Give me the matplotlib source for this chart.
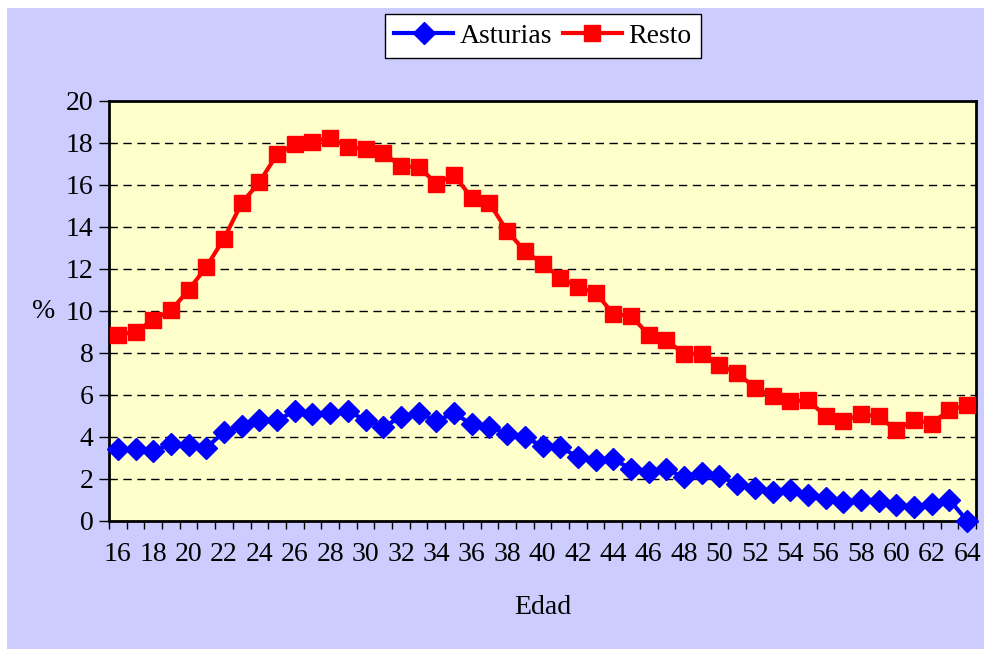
import matplotlib
matplotlib.use("Agg")
import matplotlib.pyplot as plt
from matplotlib.patches import Rectangle
import numpy as np

ages = list(range(16, 65))
asturias = [3.41, 3.44, 3.32, 3.68, 3.60, 3.49, 4.24, 4.51, 4.83, 4.80,
            5.24, 5.08, 5.14, 5.24, 4.80, 4.48, 4.95, 5.16, 4.76, 5.14,
            4.60, 4.48, 4.16, 4.00, 3.56, 3.52, 3.05, 2.89, 2.97, 2.46,
            2.33, 2.47, 2.08, 2.28, 2.14, 1.75, 1.59, 1.38, 1.49, 1.26,
            1.10, 0.90, 1.02, 0.96, 0.75, 0.67, 0.83, 1.02, 0.00]
resto = [8.88, 9.00, 9.59, 10.03, 11.00, 12.10, 13.45, 15.14, 16.14, 17.46,
         17.94, 18.05, 18.26, 17.81, 17.70, 17.54, 16.89, 16.86, 16.07, 16.46,
         15.40, 15.14, 13.81, 12.86, 12.26, 11.59, 11.14, 10.86, 9.87, 9.76,
         8.88, 8.60, 7.97, 7.97, 7.41, 7.05, 6.35, 5.94, 5.71, 5.75,
         5.00, 4.76, 5.08, 4.98, 4.32, 4.83, 4.64, 5.30, 5.51]
xtick_labels = [str(a) for a in range(16, 65, 2)]
yticks = list(range(0, 21, 2))

plt.rcParams['font.family'] = ['Liberation Serif', 'DejaVu Serif']
FS = 20

W, H = 984, 649
fig = plt.figure(figsize=(W / 100, H / 100), dpi=100)
fig.patch.set_facecolor('white')
bg = Rectangle((7 / W, 0), 1 - 7 / W, 1 - 8 / H, transform=fig.transFigure,
               facecolor='#CCCCFF', edgecolor='none', zorder=-10)
fig.add_artist(bg)

ax = fig.add_axes([109 / W, 128 / H, (976 - 109) / W, (521 - 101) / H])
ax.set_zorder(1)
ax.set_facecolor('#FFFFCC')

for y in yticks[1:-1]:
    ax.axhline(y, color='black', lw=1.0, dashes=(6, 4), zorder=1)

ax.plot(ages, asturias, color='#0000FF', lw=3, marker='D', markersize=11.5,
        label='Asturias', zorder=3, clip_on=False)
ax.plot(ages, resto, color='#FF0000', lw=3, marker='s', markersize=12,
        label='Resto', zorder=3, clip_on=False)

ax.set_xlim(15.5, 64.5)
ax.set_ylim(0, 20)
ax.set_yticks(yticks)
ax.set_yticklabels([str(v) for v in yticks], fontsize=FS)
ax.set_xticks(list(range(16, 65, 2)))
ax.set_xticklabels(xtick_labels, fontsize=FS)
ax.set_xticks(np.arange(15.5, 65, 1.0), minor=True)
ax.tick_params(axis='x', which='major', length=0, pad=15)
ax.tick_params(axis='x', which='minor', length=6, width=1, direction='out')
ax.tick_params(axis='y', length=7, width=1, direction='out', pad=4)

for s in ax.spines.values():
    s.set_linewidth(2)
    s.set_color('black')

ax.text(-0.062, 10 / 20, '%', transform=ax.transAxes, fontsize=FS,
        ha='right', va='center')
fig.text(543 / W, 1 - 607 / H, 'Edad', fontsize=FS, ha='center', va='center')

leg = fig.legend(loc='center', bbox_to_anchor=(543 / W, 1 - 36 / H), ncol=2,
                 fontsize=FS, frameon=True, fancybox=False, edgecolor='black',
                 facecolor='white', framealpha=1, handlelength=2.1,
                 handletextpad=0.25, columnspacing=0.4, borderpad=0.35,
                 borderaxespad=0)
leg.get_frame().set_linewidth(1)

fig.savefig('out.png', dpi=100, facecolor=fig.get_facecolor())
